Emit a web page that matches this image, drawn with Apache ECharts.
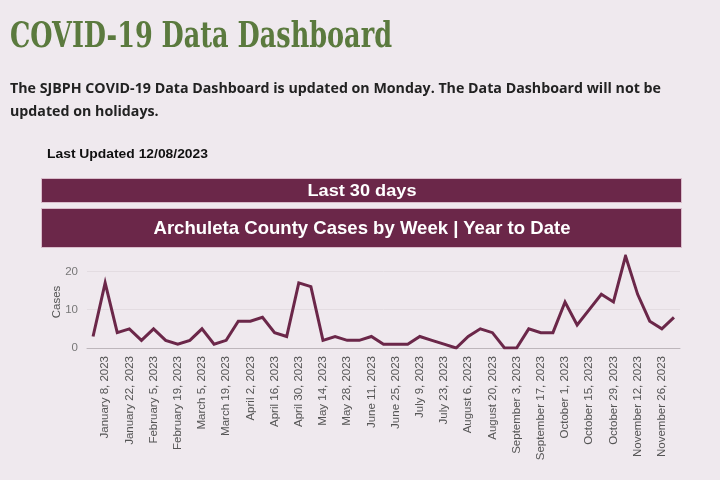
<!DOCTYPE html>
<html>
<head>
<meta charset="utf-8">
<script src="https://cdn.jsdelivr.net/npm/echarts@6/dist/echarts.min.js"></script>
<style>
  html, body { margin:0; padding:0; width:720px; height:480px; overflow:hidden; background:#efe9ee; }
  #chart { position:absolute; left:0; top:0; width:720px; height:480px; }
  .t { position:absolute; white-space:nowrap; display:inline-block; transform-origin:left top; z-index:2; }
  #title { left:10px; top:14px; font-family:"DejaVu Serif Condensed","DejaVu Serif",serif; font-weight:bold; font-size:35px; color:#5b7a3e; }
  .para { left:10px; font-family:"Open Sans","Liberation Sans",sans-serif; font-weight:bold; font-size:14.5px; color:#222; }
  #p1 { top:78px; }
  #p2 { top:101px; }
  #upd { left:47px; top:146px; font-family:"Liberation Sans",Arial,sans-serif; font-weight:bold; font-size:13px; color:#111; }
  .bar { position:absolute; left:42px; width:639px; background:#6b2749; z-index:2; box-shadow:0 0 0 1px #d9bccb; }
  #b1 { top:179px; height:23px; }
  #b2 { top:209px; height:38px; }
  .bt { position:absolute; left:50%; top:50%; white-space:nowrap; font-family:"Liberation Sans",Arial,sans-serif; font-weight:bold; color:#fff; transform-origin:center center; }
  #b1 .bt { font-size:17px; }
  #b2 .bt { font-size:18.5px; }
</style>
</head>
<body>
<div id="chart"></div>
<div id="title" class="t">COVID-19 Data Dashboard</div>
<div id="p1" class="t para">The SJBPH COVID-19 Data Dashboard is updated on Monday. The Data Dashboard will not be</div>
<div id="p2" class="t para">updated on holidays.</div>
<div id="upd" class="t">Last Updated 12/08/2023</div>
<div id="b1" class="bar"><span class="bt">Last 30 days</span></div>
<div id="b2" class="bar"><span class="bt">Archuleta County Cases by Week | Year to Date</span></div>
<script>
const weeks = [
  "January 1, 2023","January 8, 2023","January 15, 2023","January 22, 2023","January 29, 2023",
  "February 5, 2023","February 12, 2023","February 19, 2023","February 26, 2023",
  "March 5, 2023","March 12, 2023","March 19, 2023","March 26, 2023",
  "April 2, 2023","April 9, 2023","April 16, 2023","April 23, 2023","April 30, 2023",
  "May 7, 2023","May 14, 2023","May 21, 2023","May 28, 2023",
  "June 4, 2023","June 11, 2023","June 18, 2023","June 25, 2023",
  "July 2, 2023","July 9, 2023","July 16, 2023","July 23, 2023","July 30, 2023",
  "August 6, 2023","August 13, 2023","August 20, 2023","August 27, 2023",
  "September 3, 2023","September 10, 2023","September 17, 2023","September 24, 2023",
  "October 1, 2023","October 8, 2023","October 15, 2023","October 22, 2023","October 29, 2023",
  "November 5, 2023","November 12, 2023","November 19, 2023","November 26, 2023",
  "December 3, 2023"
];
const cases = [3,17,4,5,2,5,2,1,2,5,1,2,7,7,8,4,3,17,16,2,3,2,2,3,1,1,1,3,2,1,0,3,5,4,0,0,5,4,4,12,6,10,14,12,24,14,7,5,8];
const yTicks = [0, 10, 20];

// fit text widths to the reference
function fitLeft(id, w) {
  const el = document.getElementById(id);
  const nw = el.getBoundingClientRect().width;
  el.style.transform = 'scaleX(' + (w / nw) + ')';
  return w / nw;
}
function fitCenter(sel, w) {
  const el = document.querySelector(sel);
  const nw = el.getBoundingClientRect().width;
  el.style.transform = 'translate(-50%,-50%) scaleX(' + (w / nw) + ')';
}
fitLeft('title', 382);
const pScale = fitLeft('p1', 651);
document.getElementById('p2').style.transform = 'scaleX(' + pScale + ')';
fitLeft('upd', 161);
fitCenter('#b1 .bt', 109);
fitCenter('#b2 .bt', 417);

const chart = echarts.init(document.getElementById('chart'), null, { renderer: 'canvas' });
chart.setOption({
  backgroundColor: 'transparent',
  animation: false,
  grid: { left: 87, right: 40, top: 256, bottom: 132, containLabel: false },
  xAxis: {
    type: 'category',
    data: weeks,
    boundaryGap: true,
    axisLine: { lineStyle: { color: '#bdb6bb', width: 1 } },
    axisTick: { show: false },
    axisLabel: {
      rotate: 90,
      interval: (i) => i % 2 === 1,
      color: '#555',
      fontFamily: 'Liberation Sans, Arial, sans-serif',
      fontSize: 11.5,
      margin: 8
    }
  },
  yAxis: {
    type: 'value',
    min: 0,
    max: 24,
    interval: 10,
    name: 'Cases',
    nameLocation: 'middle',
    nameGap: 24,
    nameMoveOverlap: false,
    nameTextStyle: { color: '#555', fontFamily: 'Liberation Sans, Arial, sans-serif', fontSize: 11.5 },
    axisLine: { show: false },
    axisTick: { show: false },
    axisLabel: {
      color: '#777',
      fontFamily: 'Liberation Sans, Arial, sans-serif',
      fontSize: 11.5,
      margin: 9,
      showMaxLabel: false,
      formatter: (v) => yTicks.indexOf(v) >= 0 ? String(v) : ''
    },
    splitLine: { lineStyle: { color: ['transparent', '#e3dce1', '#e3dce1', 'transparent'], width: 1 } }
  },
  series: [{
    type: 'line',
    data: cases,
    showSymbol: false,
    symbol: 'none',
    lineStyle: { color: '#6b2749', width: 3, join: 'miter' },
    itemStyle: { color: '#6b2749' }
  }]
});
</script>
</body>
</html>
